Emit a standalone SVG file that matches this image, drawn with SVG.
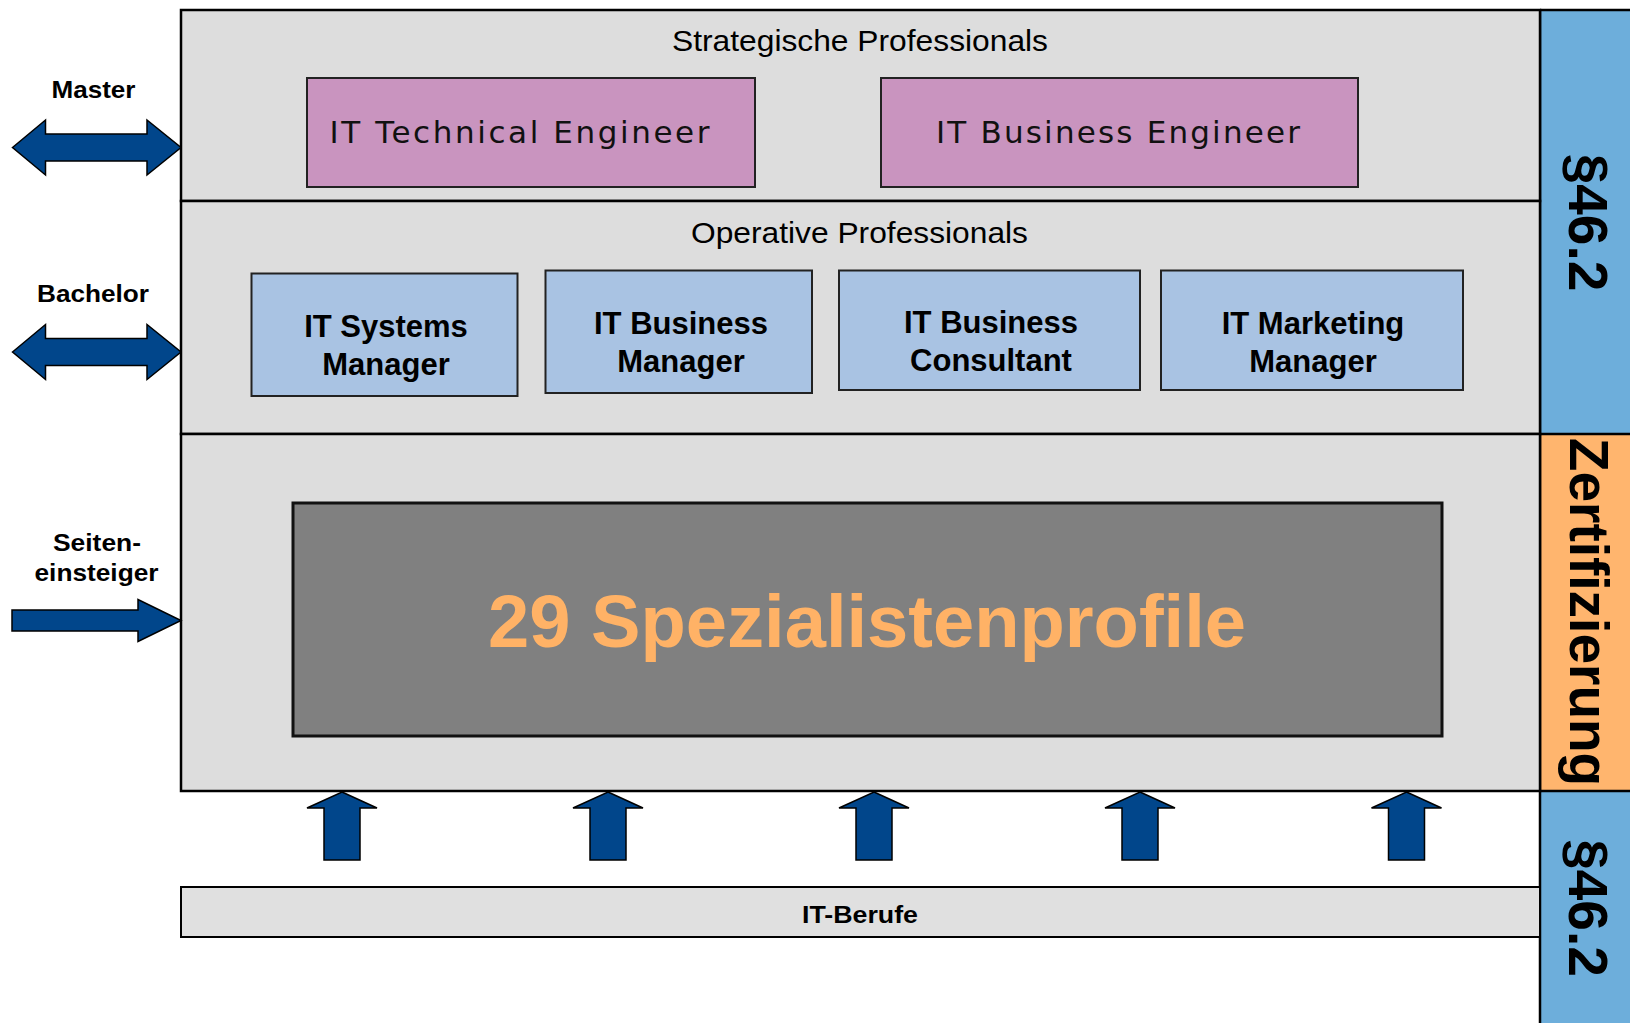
<svg xmlns="http://www.w3.org/2000/svg" width="1630" height="1023" viewBox="0 0 1630 1023">
<style>
.panel{fill:#dddddd;stroke:#000;stroke-width:2.5}
.pink{fill:#c994bf;stroke:#222;stroke-width:2}
.lblue{fill:#a9c3e3;stroke:#222;stroke-width:2}
.arrow{fill:#01468b;stroke:#000;stroke-width:1.5;stroke-linejoin:miter}
.hdr{font-family:"Liberation Sans",Arial,sans-serif;font-size:30px;fill:#000;text-anchor:middle}
.eng{font-family:"DejaVu Sans","Open Sans",sans-serif;font-size:31px;fill:#111;text-anchor:middle}
.box{font-family:"Liberation Sans",Arial,sans-serif;font-size:31px;font-weight:bold;fill:#000;text-anchor:middle}
.side{font-family:"Liberation Sans",Arial,sans-serif;font-size:24px;font-weight:bold;fill:#000;text-anchor:middle}
.vert{font-family:"Liberation Sans",Arial,sans-serif;font-size:55px;font-weight:bold;fill:#000;text-anchor:middle}
</style>
<rect x="0" y="0" width="1630" height="1023" fill="#fff"/>

<g id="column">
<rect x="1540" y="10" width="90" height="424" fill="#6daedb"/>
<rect x="1540" y="434" width="90" height="357" fill="#ffb56e"/>
<rect x="1540" y="791" width="90" height="232" fill="#6daedb"/>
<line x1="1540" y1="10" x2="1540" y2="1023" stroke="#000" stroke-width="2.5"/>
<line x1="1540" y1="10" x2="1630" y2="10" stroke="#000" stroke-width="2.5"/>
<line x1="1540" y1="434" x2="1630" y2="434" stroke="#000" stroke-width="2.5"/>
<line x1="1540" y1="791" x2="1630" y2="791" stroke="#000" stroke-width="2.5"/>
<text class="vert" transform="translate(1569,222.5) rotate(90)">§46.2</text>
<text class="vert" transform="translate(1570,612) rotate(90)">Zertifizierung</text>
<text class="vert" transform="translate(1569,908) rotate(90)">§46.2</text>
</g>

<g id="strategische">
<rect class="panel" x="181" y="10" width="1359" height="191"/>
<text class="hdr" x="860" y="50.5" textLength="376" lengthAdjust="spacingAndGlyphs">Strategische Professionals</text>
</g>
<g id="operative">
<rect class="panel" x="181" y="201" width="1359" height="233"/>
<text class="hdr" x="859.5" y="243.3" textLength="337" lengthAdjust="spacingAndGlyphs">Operative Professionals</text>
</g>
<g id="spezialisten-panel">
<rect class="panel" x="181" y="434" width="1359" height="357"/>
</g>

<g id="it-technical-engineer">
<rect class="pink" x="307" y="78" width="448" height="109"/>
<text class="eng" x="519.5" y="143.3" textLength="380" lengthAdjust="spacing">IT Technical Engineer</text>
</g>
<g id="it-business-engineer">
<rect class="pink" x="881" y="78" width="477" height="109"/>
<text class="eng" x="1118" y="143.3" textLength="364" lengthAdjust="spacing">IT Business Engineer</text>
</g>

<g id="it-systems-manager">
<rect class="lblue" x="251.5" y="273.5" width="266" height="122.5"/>
<text class="box" x="386" y="337">IT Systems</text>
<text class="box" x="386" y="375">Manager</text>
</g>
<g id="it-business-manager">
<rect class="lblue" x="545.5" y="270.5" width="266.5" height="122.5"/>
<text class="box" x="681" y="333.5">IT Business</text>
<text class="box" x="681" y="371.5">Manager</text>
</g>
<g id="it-business-consultant">
<rect class="lblue" x="839" y="270.5" width="301" height="119.5"/>
<text class="box" x="991" y="333.3">IT Business</text>
<text class="box" x="991" y="371">Consultant</text>
</g>
<g id="it-marketing-manager">
<rect class="lblue" x="1161" y="270.5" width="302" height="119.5"/>
<text class="box" x="1313" y="334.3">IT Marketing</text>
<text class="box" x="1313" y="371.7">Manager</text>
</g>

<g id="spezialistenprofile">
<rect x="293" y="503" width="1149" height="233" fill="#808080" stroke="#111" stroke-width="3"/>
<text x="867" y="647" font-family="Liberation Sans, Arial, sans-serif" font-size="74" font-weight="bold" fill="#ffb266" text-anchor="middle" textLength="758" lengthAdjust="spacingAndGlyphs">29 Spezialistenprofile</text>
</g>

<g id="it-berufe">
<rect x="181" y="887" width="1359" height="50" fill="#e0e0e0" stroke="#000" stroke-width="2"/>
<text class="side" x="860" y="923" textLength="116" lengthAdjust="spacingAndGlyphs">IT-Berufe</text>
</g>

<g id="labels">
<text class="side" x="93.5" y="97.7" textLength="84" lengthAdjust="spacingAndGlyphs">Master</text>
<text class="side" x="93" y="302.3" textLength="112" lengthAdjust="spacingAndGlyphs">Bachelor</text>
<text class="side" x="97" y="551" textLength="88" lengthAdjust="spacingAndGlyphs">Seiten-</text>
<text class="side" x="96.5" y="581" textLength="124" lengthAdjust="spacingAndGlyphs">einsteiger</text>
</g>

<g id="connectors">
<polygon class="arrow" points="12.5,147.5 45.5,120 45.5,134 147,134 147,120 181,147.5 147,175 147,161 45.5,161 45.5,175"/>
<polygon class="arrow" points="12.5,352 45.5,324.5 45.5,338.5 147,338.5 147,324.5 181,352 147,379.5 147,365.5 45.5,365.5 45.5,379.5"/>
<polygon class="arrow" points="12,610 138,610 138,599.5 181,620.5 138,641.5 138,631 12,631"/>
<polygon class="arrow" points="342,792 377,808 360,808 360,860 324,860 324,808 307,808"/>
<polygon class="arrow" points="608,792 643,808 626,808 626,860 590,860 590,808 573,808"/>
<polygon class="arrow" points="874,792 909,808 892,808 892,860 856,860 856,808 839,808"/>
<polygon class="arrow" points="1140,792 1175,808 1158,808 1158,860 1122,860 1122,808 1105,808"/>
<polygon class="arrow" points="1406.5,792 1441.5,808 1424.5,808 1424.5,860 1388.5,860 1388.5,808 1371.5,808"/>
</g>
</svg>
